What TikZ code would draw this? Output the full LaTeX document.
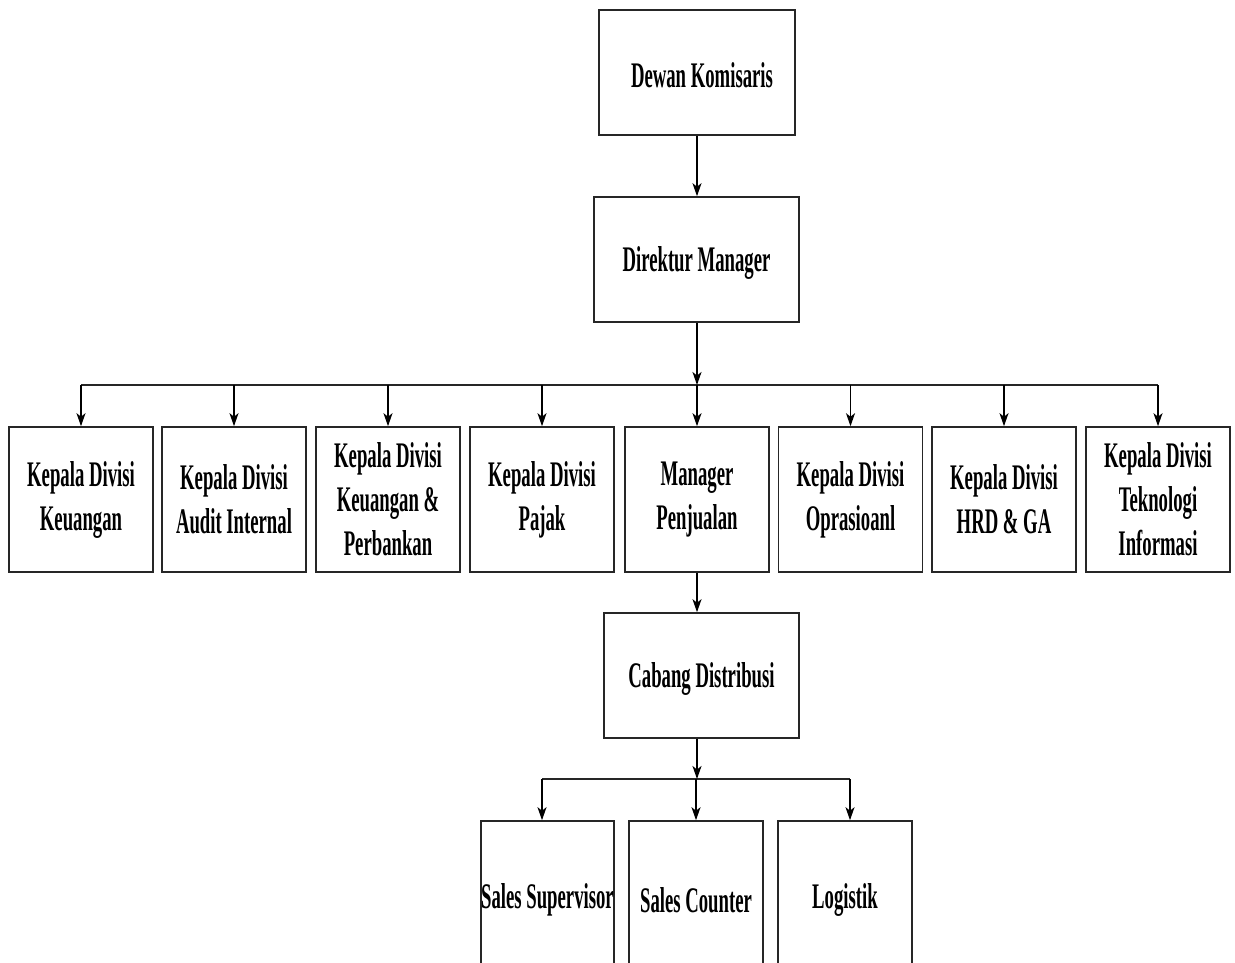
\documentclass[tikz,border=0pt]{standalone}
\usepackage{fontspec}
\setmainfont{Liberation Serif}[FakeStretch=0.52]
\usetikzlibrary{arrows.meta}
\newcommand{\lowtxt}[1]{\raisebox{-3pt}[\height][\depth]{#1}}
\begin{document}
\begin{tikzpicture}[x=1pt,y=-1pt,
  box/.style={draw=black!85, line width=1.6pt, fill=white, inner sep=0pt, align=center,
    font=\bfseries\fontsize{36}{44}\selectfont},
  arr/.style={line width=1.3pt, -{Stealth[length=13pt,width=9pt,inset=3.5pt]}},
  bus/.style={line width=1.6pt, draw=black!85}]
\useasboundingbox (0,0) rectangle (1235,963);
\clip (0,0) rectangle (1235,963);
\node[box, minimum width=196pt, minimum height=125pt] (dk) at (697,72.5) {\hspace*{10pt}\lowtxt{Dewan Komisaris}};
\node[box, minimum width=205pt, minimum height=125pt] (dm) at (696.5,259.5) {\lowtxt{Direktur Manager}};
\foreach \n/\x/\t in {b1/81/{Kepala Divisi\\Keuangan},
                      b2/234/{Kepala Divisi\\Audit Internal},
                      b3/388/{Kepala Divisi\\Keuangan \&\\Perbankan},
                      b4/542/{Kepala Divisi\\Pajak},
                      b5/697/{Manager\\Penjualan},
                      b6/850.5/{Kepala Divisi\\Oprasioanl},
                      b7/1004/{Kepala Divisi\\HRD \& GA},
                      b8/1158/{Kepala Divisi\\Teknologi\\Informasi}}
  \node[box, minimum width=144pt, minimum height=145pt] (\n) at (\x,499.5) {\t};
\node[box, minimum width=195pt, minimum height=125pt] (cd) at (701.5,675.5) {\lowtxt{Cabang Distribusi}};
\node[box, minimum width=133pt, minimum height=152pt] (s1) at (547.5,897) {\lowtxt{Sales Supervisor}};
\node[box, minimum width=134pt, minimum height=152pt] (s2) at (696,897) {\lowtxt{Sales Counter}};
\node[box, minimum width=134pt, minimum height=152pt] (s3) at (845,897) {\lowtxt{Logistik}};
% top connectors
\draw[arr] (dk.south -| 697,0) -- (dm.north -| 697,0);
\coordinate (busA) at (697,385);
\draw[bus] (b1 |- busA) -- (b8 |- busA);
\draw[arr] (dm.south -| busA) -- (busA);
\foreach \n in {b1,b2,b3,b4,b5,b6,b7,b8}
  \draw[arr] (\n |- busA) -- (\n.north);
\draw[arr] (b5.south) -- (b5.south |- cd.north);
% bottom connectors
\coordinate (busB) at (697,779);
\coordinate (t1) at (542,779);
\coordinate (t2) at (696,779);
\coordinate (t3) at (850,779);
\draw[bus] (t1) -- (t3);
\draw[arr] (cd.south -| busB) -- (busB);
\draw[arr] (t1) -- (t1 |- s1.north);
\draw[arr] (t2) -- (t2 |- s2.north);
\draw[arr] (t3) -- (t3 |- s3.north);
\end{tikzpicture}
\end{document}
